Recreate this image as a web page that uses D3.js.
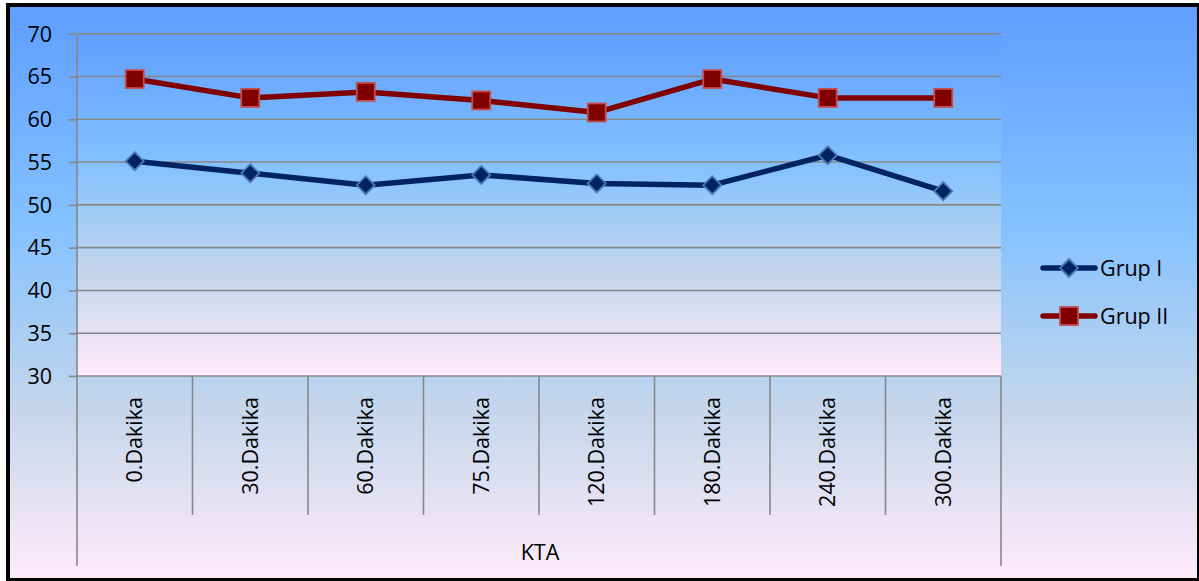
<!DOCTYPE html>
<html>
<head>
<meta charset="utf-8">
<script src="https://cdn.jsdelivr.net/npm/d3@7"></script>
<style>
  html, body { margin: 0; padding: 0; background: #ffffff; }
  svg { display: block; }
  text { font-family: "Open Sans", "Noto Sans", sans-serif; fill: #000; }
</style>
</head>
<body>
<svg id="chart" width="1199" height="581"></svg>
<script>
// Time points (minutes) on the category axis
const categories = ["0.Dakika", "30.Dakika", "60.Dakika", "75.Dakika", "120.Dakika", "180.Dakika", "240.Dakika", "300.Dakika"];
// Series values
const grupI  = [55.1, 53.7, 52.3, 53.5, 52.5, 52.3, 55.8, 51.6];
const grupII = [64.7, 62.5, 63.2, 62.2, 60.8, 64.7, 62.5, 62.5];
const seriesNames = ["Grup I", "Grup II"];
// Value axis ticks
const yTicks = [30, 35, 40, 45, 50, 55, 60, 65, 70];
const axisTitle = "KTA";

const svg = d3.select("#chart");
const W = 1199, H = 581;
const plot = { left: 77, right: 1001, top: 33.7, bottom: 376 };
const fontSize = 21.5;

// "Daybreak" style gradient used for both chart and plot backgrounds
const defs = svg.append("defs");
function daybreak(id) {
  const g = defs.append("linearGradient").attr("id", id)
    .attr("x1", 0).attr("y1", 0).attr("x2", 0).attr("y2", 1);
  [[0, "#5E9EFF"], [0.39, "#85C2FF"], [0.70, "#C4D6EB"], [1, "#FFEBFA"]]
    .forEach(([o, c]) => g.append("stop").attr("offset", o).attr("stop-color", c));
}
daybreak("bgGrad");
daybreak("plotGrad");

// Chart frame
svg.append("rect").attr("x", 6).attr("y", 3).attr("width", W - 6).attr("height", H - 3).attr("fill", "#000");
svg.append("rect").attr("x", 10).attr("y", 7).attr("width", W - 12).attr("height", H - 10).attr("fill", "url(#bgGrad)");

// Plot area
svg.append("rect")
  .attr("x", plot.left).attr("y", plot.top)
  .attr("width", plot.right - plot.left).attr("height", plot.bottom - plot.top)
  .attr("fill", "url(#plotGrad)");

const x = d3.scaleBand().domain(categories).range([plot.left, plot.right]).paddingInner(0).paddingOuter(0);
const y = d3.scaleLinear().domain([30, 70]).range([plot.bottom, plot.top]);
const cx = c => x(c) + x.bandwidth() / 2;

const gridColor = "#878787";

// Horizontal gridlines
svg.append("g").selectAll("line").data(yTicks).join("line")
  .attr("x1", plot.left).attr("x2", plot.right)
  .attr("y1", d => y(d)).attr("y2", d => y(d))
  .attr("stroke", gridColor).attr("stroke-width", 1.6);

// Value axis
const yAxis = svg.append("g").attr("transform", `translate(${plot.left},0)`)
  .call(d3.axisLeft(y).tickValues(yTicks).tickSize(8).tickPadding(17).tickFormat(d3.format("d")));
yAxis.select(".domain").remove();
yAxis.selectAll(".tick line").attr("stroke", gridColor).attr("stroke-width", 1.6);
yAxis.selectAll(".tick text").attr("font-size", fontSize).attr("font-family", "Open Sans").attr("fill", "#000").attr("dy", "0.34em");

// Vertical axis line, extended down through the category area
svg.append("line").attr("x1", plot.left).attr("x2", plot.left)
  .attr("y1", plot.top).attr("y2", 566).attr("stroke", gridColor).attr("stroke-width", 1.6);
svg.append("line").attr("x1", plot.right).attr("x2", plot.right)
  .attr("y1", plot.bottom).attr("y2", 566).attr("stroke", gridColor).attr("stroke-width", 1.6);

// Category separators
const inner = categories.slice(1).map(c => x(c));
svg.append("g").selectAll("line").data(inner).join("line")
  .attr("x1", d => d).attr("x2", d => d)
  .attr("y1", plot.bottom).attr("y2", 515)
  .attr("stroke", gridColor).attr("stroke-width", 1.6);

// Category labels (rotated)
svg.append("g").selectAll("text").data(categories).join("text")
  .attr("transform", d => `translate(${cx(d) + 7.5},397) rotate(-90)`)
  .attr("text-anchor", "end")
  .attr("font-size", fontSize)
  .text(d => d);

// Group title under the categories
svg.append("text").attr("x", (plot.left + plot.right) / 2 + 1).attr("y", 560)
  .attr("text-anchor", "middle").attr("font-size", fontSize).text(axisTitle);

// Series
const series = [
  { name: seriesNames[0], values: grupI, color: "#002462", markFill: "#002462", markStroke: "#4a7ab5", shape: "diamond" },
  { name: seriesNames[1], values: grupII, color: "#800000", markFill: "#800000", markStroke: "#c44d4d", shape: "square" }
];

const line = d3.line().x(d => cx(d.c)).y(d => y(d.v));

function drawMarker(g, shape, px, py, s) {
  if (shape === "square") {
    g.append("rect").attr("x", px - 9).attr("y", py - 9).attr("width", 18).attr("height", 18)
      .attr("fill", s.markFill).attr("stroke", s.markStroke).attr("stroke-width", 1.8);
  } else {
    const r = 9;
    g.append("path").attr("d", `M${px},${py - r}L${px + r},${py}L${px},${py + r}L${px - r},${py}Z`)
      .attr("fill", s.markFill).attr("stroke", s.markStroke).attr("stroke-width", 1.8);
  }
}

series.forEach(s => {
  const pts = categories.map((c, i) => ({ c, v: s.values[i] }));
  svg.append("path").datum(pts).attr("d", line)
    .attr("fill", "none").attr("stroke", s.color).attr("stroke-width", 5.5)
    .attr("stroke-linejoin", "round").attr("stroke-linecap", "round");
  const mg = svg.append("g");
  pts.forEach(p => drawMarker(mg, s.shape, cx(p.c), y(p.v), s));
});

// Legend
const legendY = [268, 316];
series.forEach((s, i) => {
  const g = svg.append("g");
  g.append("line").attr("x1", 1043).attr("x2", 1095).attr("y1", legendY[i]).attr("y2", legendY[i])
    .attr("stroke", s.color).attr("stroke-width", 5.5).attr("stroke-linecap", "round");
  drawMarker(g, s.shape, 1069, legendY[i], s);
  g.append("text").attr("x", 1100).attr("y", legendY[i]).attr("dy", "0.35em")
    .attr("font-size", fontSize).text(s.name);
});
</script>
</body>
</html>
